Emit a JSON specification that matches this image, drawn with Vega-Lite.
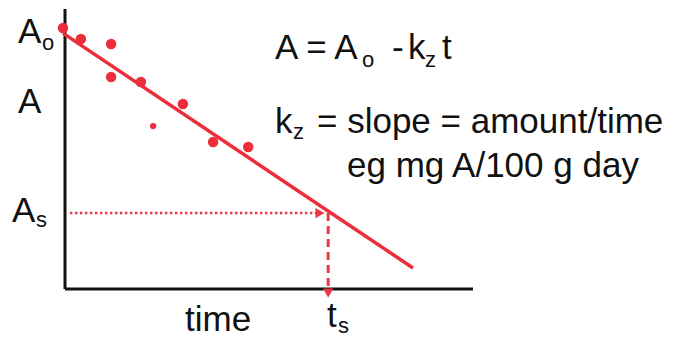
{
  "$schema": "https://vega.github.io/schema/vega-lite/v6.json",
  "width": 408,
  "height": 280,
  "autosize": {"type": "none"},
  "padding": {"left": 65, "top": 9, "right": 200, "bottom": 49},
  "background": "white",
  "config": {"view": {"stroke": null}, "text": {"font": "Liberation Sans"}},
  "datasets": {
    "axes": [
      {"t": 0, "A": 0, "t2": 0, "A2": 10},
      {"t": 0, "A": 0, "t2": 10, "A2": 0}
    ],
    "fit": [
      {"t": -0.05, "A": 9.14, "t2": 8.53, "A2": 0.75}
    ],
    "hguide": [
      {"t": 0.12, "A": 2.71, "t2": 6.2, "A2": 2.71}
    ],
    "vguide": [
      {"t": 6.45, "A": 2.71, "t2": 6.45, "A2": 0.07}
    ],
    "heads": [
      {"t": 6.25, "A": 2.71, "dir": "right"},
      {"t": 6.45, "A": -0.14, "dir": "down"}
    ],
    "obs": [
      {"t": -0.05, "A": 9.32, "type": "main"},
      {"t": 0.39, "A": 8.93, "type": "main"},
      {"t": 1.13, "A": 8.75, "type": "main"},
      {"t": 1.13, "A": 7.57, "type": "main"},
      {"t": 1.86, "A": 7.39, "type": "main"},
      {"t": 2.89, "A": 6.61, "type": "main"},
      {"t": 2.16, "A": 5.82, "type": "minor"},
      {"t": 3.63, "A": 5.25, "type": "main"},
      {"t": 4.49, "A": 5.07, "type": "main"}
    ],
    "labels": [
      {"t": -1.152, "A": 8.786, "text": "A"},
      {"t": -1.152, "A": 6.286, "text": "A"},
      {"t": -1.299, "A": 2.393, "text": "A"},
      {"t": 2.941, "A": -1.5, "text": "time"},
      {"t": 6.422, "A": -1.357, "text": "t"},
      {"t": 5.147, "A": 8.214, "text": "A = A"},
      {"t": 8.015, "A": 8.214, "text": "-"},
      {"t": 8.407, "A": 8.214, "text": "k"},
      {"t": 9.24, "A": 8.214, "text": "t"},
      {"t": 5.147, "A": 5.571, "text": "k"},
      {"t": 6.176, "A": 5.571, "text": "= slope = amount/time"},
      {"t": 6.912, "A": 4.0, "text": "eg mg A/100 g day"}
    ],
    "subs": [
      {"t": -0.564, "A": 8.536, "text": "o"},
      {"t": -0.711, "A": 2.214, "text": "s"},
      {"t": 6.691, "A": -1.56, "text": "s"},
      {"t": 7.279, "A": 7.929, "text": "o"},
      {"t": 8.824, "A": 7.929, "text": "z"},
      {"t": 5.588, "A": 5.357, "text": "z"}
    ]
  },
  "encoding": {
    "x": {"field": "t", "type": "quantitative", "scale": {"domain": [0, 10], "nice": false, "zero": false}, "axis": null},
    "y": {"field": "A", "type": "quantitative", "scale": {"domain": [0, 10], "nice": false, "zero": false}, "axis": null}
  },
  "layer": [
    {
      "data": {"name": "axes"},
      "mark": {"type": "rule", "color": "#111111", "strokeWidth": 3},
      "encoding": {"x2": {"field": "t2"}, "y2": {"field": "A2"}}
    },
    {
      "data": {"name": "fit"},
      "mark": {"type": "rule", "color": "#ec2d3a", "strokeWidth": 3.5},
      "encoding": {"x2": {"field": "t2"}, "y2": {"field": "A2"}}
    },
    {
      "data": {"name": "hguide"},
      "mark": {"type": "rule", "color": "#e8384a", "strokeWidth": 2.5, "strokeDash": [2.5, 2.5]},
      "encoding": {"x2": {"field": "t2"}, "y2": {"field": "A2"}}
    },
    {
      "data": {"name": "vguide"},
      "mark": {"type": "rule", "color": "#e8384a", "strokeWidth": 3, "strokeDash": [8, 5]},
      "encoding": {"x2": {"field": "t2"}, "y2": {"field": "A2"}}
    },
    {
      "data": {"name": "heads"},
      "mark": {"type": "point", "filled": true, "color": "#e8384a", "size": 110, "opacity": 1},
      "encoding": {
        "shape": {"field": "dir", "type": "nominal", "scale": {"domain": ["right", "down"], "range": ["triangle-right", "triangle-down"]}, "legend": null}
      }
    },
    {
      "data": {"name": "obs"},
      "mark": {"type": "circle", "color": "#ec2d3a", "opacity": 1},
      "encoding": {
        "size": {"field": "type", "type": "nominal", "scale": {"domain": ["main", "minor"], "range": [110, 40]}, "legend": null}
      }
    },
    {
      "data": {"name": "labels"},
      "mark": {"type": "text", "align": "left", "baseline": "alphabetic", "fontSize": 35, "color": "#111111"},
      "encoding": {"text": {"field": "text"}}
    },
    {
      "data": {"name": "subs"},
      "mark": {"type": "text", "align": "left", "baseline": "alphabetic", "fontSize": 22, "color": "#111111"},
      "encoding": {"text": {"field": "text"}}
    }
  ]
}
